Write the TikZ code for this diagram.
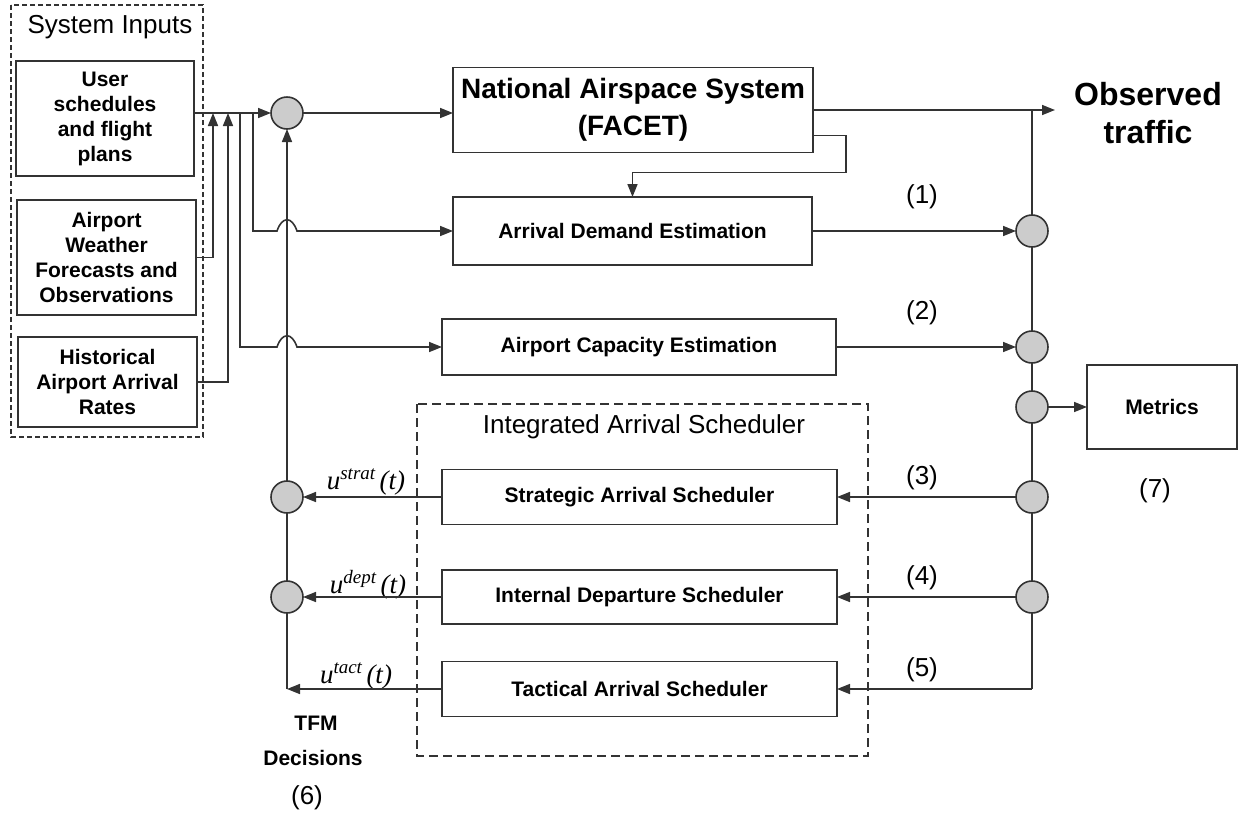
\documentclass[tikz,border=0pt]{standalone}
\usepackage{fontspec}
\setmainfont{Liberation Sans}
\newfontfamily\tnrfont{Liberation Serif}
\usetikzlibrary{arrows.meta,calc}
\newcommand{\ctrllab}[1]{{\tnrfont\itshape\fontsize{27}{27}\selectfont u\raisebox{10pt}{\fontsize{19}{19}\selectfont #1}\,(t)}}
\begin{document}
\begin{tikzpicture}[x=1pt,y=-1pt,
  ln/.style={draw=black!80,line width=1.6pt},
  arr/.style={ln,-{Triangle[length=13pt,width=10pt]}},
  box/.style={draw=black!80,line width=1.6pt,fill=white,inner sep=0pt,outer sep=0pt,align=center,font=\fontsize{21}{25}\selectfont\bfseries},
  dot/.style={circle,draw=black!80,line width=1.6pt,fill=black!20,minimum size=32pt,inner sep=0pt,outer sep=0pt},
  lab/.style={font=\fontsize{26}{30}\selectfont,inner sep=0pt},
  blab/.style={font=\fontsize{21}{25}\selectfont\bfseries,inner sep=0pt,align=center},
  grp/.style={draw=black!80,line width=1.5pt,dash pattern=on 5pt off 3pt}]
\useasboundingbox (0,0) rectangle (1241,820);

% group boxes
\draw[grp] (11,5) rectangle (203,437);
\node[lab] (sysin) at (110,27) {System Inputs};
\draw[grp,line width=1.8pt,dash pattern=on 9pt off 5pt] (417,404) rectangle (868,756);
\node[lab] (iastitle) at (644,427) {Integrated Arrival Scheduler};

% input boxes
\node[box,minimum width=178pt,minimum height=115pt] (user) at (105,118.5) {User\\schedules\\and flight\\plans};
\node[box,minimum width=179pt,minimum height=115pt] (weather) at (106.5,257.5) {Airport\\Weather\\Forecasts and\\Observations};
\node[box,minimum width=179pt,minimum height=90pt] (hist) at (107.5,382) {Historical\\Airport Arrival\\Rates};

% main boxes
\node[box,minimum width=360pt,minimum height=85pt,font=\fontsize{28}{37}\selectfont\bfseries] (nas) at (633,110) {National Airspace System\\(FACET)};
\node[box,minimum width=359pt,minimum height=68pt] (ade) at (632.5,231) {Arrival Demand Estimation};
\node[box,minimum width=394pt,minimum height=56pt] (ace) at (639,347) {Airport Capacity Estimation};
\node[box,minimum width=395pt,minimum height=55pt] (sas) at (639.5,497) {Strategic Arrival Scheduler};
\node[box,minimum width=395pt,minimum height=54pt] (ids) at (639.5,597) {Internal Departure Scheduler};
\node[box,minimum width=395pt,minimum height=55pt] (tas) at (639.5,689) {Tactical Arrival Scheduler};
\node[box,minimum width=150pt,minimum height=84pt] (metrics) at (1162,407) {Metrics};

% circles
\node[dot] (c0) at (287,113) {};
\node[dot] (csas) at (287,497) {};
\node[dot] (cids) at (287,597) {};
\node[dot] (c1) at (1032,231) {};
\node[dot] (c2) at (1032,347) {};
\node[dot] (c3) at (1032,407) {};
\node[dot] (c4) at (1032,497) {};
\node[dot] (c5) at (1032,597) {};

% text labels
\node[font=\fontsize{32}{38}\selectfont\bfseries,align=center,inner sep=0pt] (obstxt) at (1148,113) {Observed\\traffic};
\node[lab] (l1) at (922,197) {(1)};
\node[lab] (l2) at (922,313) {(2)};
\node[lab] (l3) at (922,478) {(3)};
\node[lab] (l4) at (922,578) {(4)};
\node[lab] (l5) at (922,670) {(5)};
\node[lab] (l7) at (1155,491) {(7)};
\node[lab] (l6) at (307,798) {(6)};
\node[blab] (tfmtxt) at (316,723) {TFM};
\node[blab] (dectxt) at (313,758) {Decisions};
\node[inner sep=0pt] (ustrat) at (366,482) {\ctrllab{strat}};
\node[inner sep=0pt] (udept) at (368,585) {\ctrllab{dept}};
\node[inner sep=0pt] (utact) at (356,676) {\ctrllab{tact}};

% coordinates
\coordinate (j1) at (213,113);
\coordinate (j2) at (228,113);
\coordinate (b2) at (240,113);
\coordinate (b1) at (253,113);
\coordinate (obs) at (1055,110);
\coordinate (rtop) at (1032,110);
\coordinate (rbot) at (1032,689);
\coordinate (tfm) at (287,689);

% inputs
\draw[arr] (user.east |- c0) -- (c0);
\draw[arr] (weather.east) -| (j1);
\draw[arr] (hist.east) -| (j2);
\draw[arr] (b1) |- ($(c0 |- ade.west)+(-10,0)$) .. controls +(5,-15) and +(-5,-15) .. ($(c0 |- ade.west)+(10,0)$) -- (ade.west);
\draw[arr] (b2) |- ($(c0 |- ace.west)+(-10,0)$) .. controls +(5,-15) and +(-5,-15) .. ($(c0 |- ace.west)+(10,0)$) -- (ace.west);
\draw[arr] (c0) -- (c0 -| nas.west);

% NAS outputs
\draw[arr] (nas.east) -- (obs);
\draw[arr] ($(nas.south east)+(0,-17)$) -- ++(33,0) -- ++(0,37) -| (ade.north);

% right bus
\draw[ln] (rtop) -- (c1);
\draw[ln] (c1) -- (c2);
\draw[ln] (c2) -- (c3);
\draw[ln] (c3) -- (c4);
\draw[ln] (c4) -- (c5);
\draw[ln] (c5) -- (rbot);
\draw[arr] (ade) -- (c1);
\draw[arr] (ace) -- (c2);
\draw[arr] (c3) -- (metrics);
\draw[arr] (c4) -- (sas);
\draw[arr] (c5) -- (ids);
\draw[arr] (rbot) -- (tas.east);

% left bus
\draw[arr] (sas) -- (csas);
\draw[arr] (ids) -- (cids);
\draw[arr] (tas.west) -- (tfm);
\draw[ln] (tfm) -- (cids);
\draw[ln] (cids) -- (csas);
\draw[arr] (csas) -- (c0);
\end{tikzpicture}
\end{document}
